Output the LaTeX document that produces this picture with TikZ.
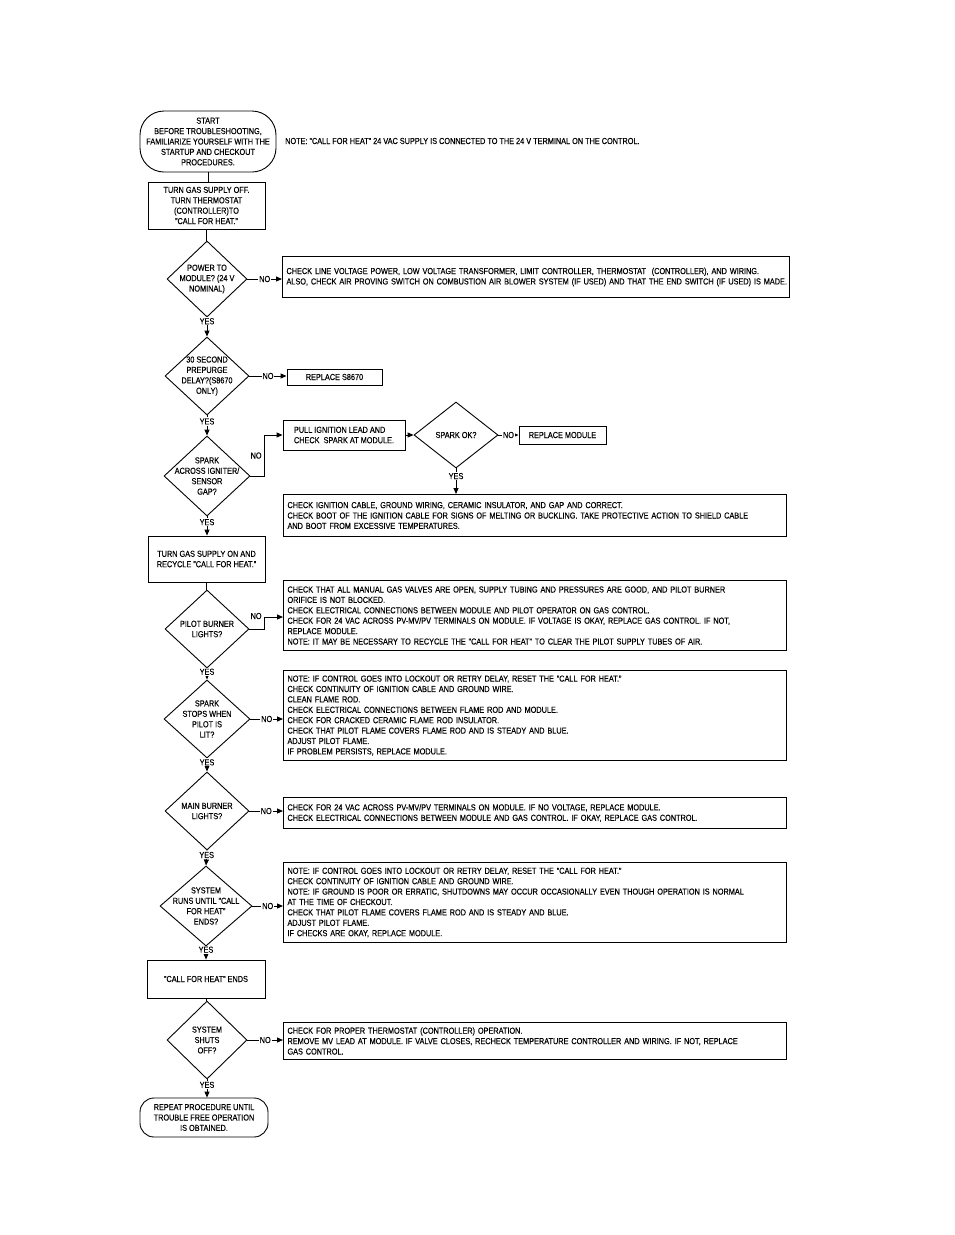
\documentclass[tikz,border=0pt]{standalone}
\usepackage{fontspec}
\setmainfont{Liberation Sans}[FakeStretch=0.84,FakeBold=0.3]
\usetikzlibrary{shapes.geometric,arrows.meta}
\begin{document}
\begin{tikzpicture}[x=1pt,y=-1pt,
  every node/.style={font=\fontsize{8.7}{10.4}\selectfont},
  ln/.style={line width=0.9pt},
  arr/.style={ln,-{Triangle[length=6pt,width=5pt]}},
  proc/.style={draw,ln,rectangle,align=center,inner sep=1pt},
  chk/.style={draw,line width=1pt,rectangle,anchor=north west,align=left,inner xsep=4pt,inner ysep=0pt},
  dia/.style={draw,ln,diamond,inner sep=0pt},
  dtxt/.style={align=center,inner sep=0pt},
  term/.style={draw,ln,rectangle,rounded corners=#1,align=center,inner sep=0pt},
  lab/.style={fill=white,inner sep=1pt},
]
\useasboundingbox (0,0) rectangle (954,1235);

% start and note
\node[term=24, minimum width=136pt, minimum height=61pt] (start) at (208,141.5)
  {START\\BEFORE TROUBLESHOOTING,\\FAMILIARIZE YOURSELF WITH THE\\STARTUP AND CHECKOUT\\PROCEDURES.};
\node[anchor=west, inner sep=0pt] (note) at (285,141)
  {NOTE: "CALL FOR HEAT" 24 VAC SUPPLY IS CONNECTED TO THE 24 V TERMINAL ON THE CONTROL.};

\node[proc, minimum width=117pt, minimum height=47pt] (b1) at (206.5,205.5)
  {TURN GAS SUPPLY OFF.\\TURN THERMOSTAT\\(CONTROLLER)TO\\"CALL FOR HEAT."};

% decision 1
\node[dia, minimum width=80pt, minimum height=76pt] (d1) at (207,279) {};
\node[dtxt] at (d1) {POWER TO\\MODULE? (24 V\\NOMINAL)};
\node[chk, text width=499pt, minimum height=41pt] (c1) at (282,256)
  {\mbox{CHECK LINE VOLTAGE POWER, LOW VOLTAGE TRANSFORMER, LIMIT CONTROLLER, THERMOSTAT\ \ (CONTROLLER), AND WIRING.}\\
   \mbox{ALSO, CHECK AIR PROVING SWITCH ON COMBUSTION AIR BLOWER SYSTEM (IF USED) AND THAT THE END SWITCH (IF USED) IS MADE.}};

% decision 2
\node[dia, minimum width=84pt, minimum height=78pt] (d2) at (207,376) {};
\node[dtxt] at (d2) {30 SECOND\\PREPURGE\\DELAY?(S8670\\ONLY)};
\node[proc, minimum width=95pt, minimum height=16pt] (r1) at (334.5,377) {REPLACE S8670};

% decision 3
\node[dia, minimum width=86pt, minimum height=80pt] (d3) at (207,476) {};
\node[dtxt] at (d3) {SPARK\\ACROSS IGNITER/\\SENSOR\\GAP?};
\node[proc, align=left, minimum width=122pt, minimum height=30pt] (pull) at (344,435)
  {PULL IGNITION LEAD AND\\CHECK\ \ SPARK AT MODULE.};
\node[dia, minimum width=84pt, minimum height=66pt] (d4) at (456,435) {};
\node[dtxt] at (d4) {SPARK OK?};
\node[proc, minimum width=87pt, minimum height=18pt] (r2) at (562.5,435) {REPLACE MODULE};
\node[chk, text width=495pt, minimum height=42pt] (c4) at (283,494)
  {CHECK IGNITION CABLE, GROUND WIRING, CERAMIC INSULATOR, AND GAP AND CORRECT.\\
   CHECK BOOT OF THE IGNITION CABLE FOR SIGNS OF MELTING OR BUCKLING. TAKE PROTECTIVE ACTION TO SHIELD CABLE\\
   AND BOOT FROM EXCESSIVE TEMPERATURES.};

\node[proc, minimum width=117pt, minimum height=46pt] (b2) at (206.5,559)
  {TURN GAS SUPPLY ON AND\\RECYCLE "CALL FOR HEAT."};

% decision 5
\node[dia, minimum width=84pt, minimum height=78pt] (d5) at (207,629) {};
\node[dtxt] at (d5) {PILOT BURNER\\LIGHTS?};
\node[chk, text width=495pt, minimum height=70pt] (c5) at (283,580)
  {CHECK THAT ALL MANUAL GAS VALVES ARE OPEN, SUPPLY TUBING AND PRESSURES ARE GOOD, AND PILOT BURNER\\
   ORIFICE IS NOT BLOCKED.\\
   CHECK ELECTRICAL CONNECTIONS BETWEEN MODULE AND PILOT OPERATOR ON GAS CONTROL.\\
   CHECK FOR 24 VAC ACROSS PV-MV/PV TERMINALS ON MODULE. IF VOLTAGE IS OKAY, REPLACE GAS CONTROL. IF NOT,\\
   REPLACE MODULE.\\
   NOTE: IT MAY BE NECESSARY TO RECYCLE THE "CALL FOR HEAT" TO CLEAR THE PILOT SUPPLY TUBES OF AIR.};

% decision 6
\node[dia, minimum width=86pt, minimum height=78pt] (d6) at (207,719) {};
\node[dtxt] at (d6) {SPARK\\STOPS WHEN\\PILOT IS\\LIT?};
\node[chk, text width=495pt, minimum height=90pt] (c6) at (283,670)
  {NOTE: IF CONTROL GOES INTO LOCKOUT OR RETRY DELAY, RESET THE "CALL FOR HEAT."\\
   CHECK CONTINUITY OF IGNITION CABLE AND GROUND WIRE.\\
   CLEAN FLAME ROD.\\
   CHECK ELECTRICAL CONNECTIONS BETWEEN FLAME ROD AND MODULE.\\
   CHECK FOR CRACKED CERAMIC FLAME ROD INSULATOR.\\
   CHECK THAT PILOT FLAME COVERS FLAME ROD AND IS STEADY AND BLUE.\\
   ADJUST PILOT FLAME.\\
   IF PROBLEM PERSISTS, REPLACE MODULE.};

% decision 7
\node[dia, minimum width=84pt, minimum height=78pt] (d7) at (207,811) {};
\node[dtxt] at (d7) {MAIN BURNER\\LIGHTS?};
\node[chk, text width=495pt, minimum height=31pt] (c7) at (283,797)
  {CHECK FOR 24 VAC ACROSS PV-MV/PV TERMINALS ON MODULE. IF NO VOLTAGE, REPLACE MODULE.\\
   CHECK ELECTRICAL CONNECTIONS BETWEEN MODULE AND GAS CONTROL. IF OKAY, REPLACE GAS CONTROL.};

% decision 8
\node[dia, minimum width=92pt, minimum height=80pt] (d8) at (206,906) {};
\node[dtxt] at (d8) {SYSTEM\\RUNS UNTIL "CALL\\FOR HEAT"\\ENDS?};
\node[chk, text width=495pt, minimum height=80pt] (c8) at (283,862)
  {NOTE: IF CONTROL GOES INTO LOCKOUT OR RETRY DELAY, RESET THE "CALL FOR HEAT."\\
   CHECK CONTINUITY OF IGNITION CABLE AND GROUND WIRE.\\
   NOTE: IF GROUND IS POOR OR ERRATIC, SHUTDOWNS MAY OCCUR OCCASIONALLY EVEN THOUGH OPERATION IS NORMAL\\
   AT THE TIME OF CHECKOUT.\\
   CHECK THAT PILOT FLAME COVERS FLAME ROD AND IS STEADY AND BLUE.\\
   ADJUST PILOT FLAME.\\
   IF CHECKS ARE OKAY, REPLACE MODULE.};

\node[proc, minimum width=118pt, minimum height=38pt] (b3) at (206,979) {"CALL FOR HEAT" ENDS};

% decision 9
\node[dia, minimum width=80pt, minimum height=78pt] (d9) at (207,1040) {};
\node[dtxt] at (d9) {SYSTEM\\SHUTS\\OFF?};
\node[chk, text width=495pt, minimum height=37pt] (c9) at (283,1022)
  {CHECK FOR PROPER THERMOSTAT (CONTROLLER) OPERATION.\\
   REMOVE MV LEAD AT MODULE. IF VALVE CLOSES, RECHECK TEMPERATURE CONTROLLER AND WIRING. IF NOT, REPLACE\\
   GAS CONTROL.};

\node[term=14, minimum width=128pt, minimum height=39pt] (end) at (204,1117.5)
  {REPEAT PROCEDURE UNTIL\\TROUBLE FREE OPERATION\\IS OBTAINED.};

% connectors
\draw[ln] (start.south) -- (start.south |- b1.north);
\draw[ln] (b1.south) -- (b1.south |- d1.north);
\draw[arr] (d1.east) -- node[lab]{NO} (d1.east -| c1.west);
\draw[arr] (d1.south) -- node[lab,pos=0.2]{YES} (d2.north);
\draw[arr] (d2.east) -- node[lab]{NO} (d2.east -| r1.west);
\draw[arr] (d2.south) -- node[lab,pos=0.3]{YES} (d3.north);
\coordinate (k3) at (264,476);
\draw[arr] (d3.east) -- (k3) |- node[pos=0.25,left,inner sep=2pt]{NO} (pull.west);
\draw[arr] (pull.east) -- (d4.west);
\draw[arr] (d4.east) -- node[lab]{NO} (r2.west);
\draw[arr] (d4.south) -- node[lab,pos=0.3]{YES} (d4.south |- c4.north);
\draw[arr] (d3.south) -- node[lab,pos=0.3]{YES} (d3.south |- b2.north);
\draw[ln] (b2.south) -- (b2.south |- d5.north);
\coordinate (k5) at (264,629);
\coordinate (k5b) at (264,617);
\draw[ln] (d5.east) -- (k5) -- (k5b);
\draw[arr] (k5b) -- node[pos=0,left,inner sep=2pt,yshift=1pt]{NO} (k5b -| c5.west);
\draw[arr] (d5.south) -- node[lab,pos=0.3]{YES} (d6.north);
\draw[arr] (d6.east) -- node[lab]{NO} (d6.east -| c6.west);
\draw[arr] (d6.south) -- node[lab,pos=0.3]{YES} (d7.north);
\draw[arr] (d7.east) -- node[lab]{NO} (d7.east -| c7.west);
\draw[arr] (d7.south) -- node[lab,pos=0.3]{YES} (d8.north);
\draw[arr] (d8.east) -- node[lab]{NO} (d8.east -| c8.west);
\draw[arr] (d8.south) -- node[lab,pos=0.25]{YES} (d8.south |- b3.north);
\draw[ln] (b3.south) -- (b3.south |- d9.north);
\draw[arr] (d9.east) -- node[lab]{NO} (d9.east -| c9.west);
\draw[arr] (d9.south) -- node[lab,pos=0.3]{YES} (d9.south |- end.north);
\end{tikzpicture}
\end{document}
